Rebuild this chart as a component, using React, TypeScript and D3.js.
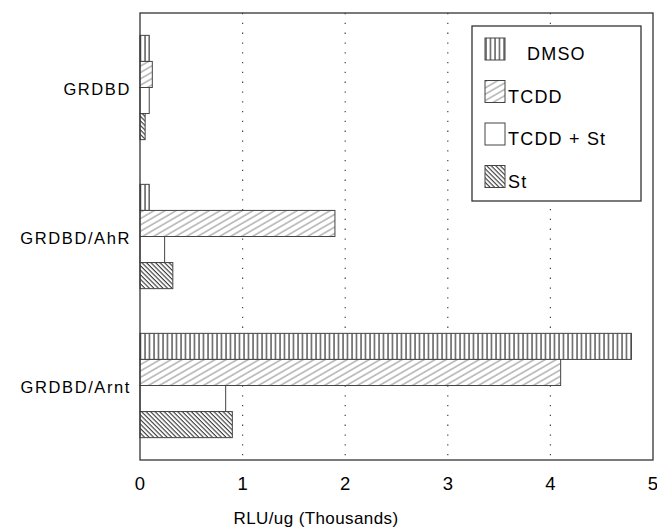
import * as d3 from "d3";
import { useEffect, useRef } from "react";

// chart data
const categories = ["GRDBD", "GRDBD/AhR", "GRDBD/Arnt"];
const seriesNames = ["DMSO", "TCDD", "TCDD + St", "St"];
const dmso = [0.09, 0.09, 4.79];
const tcdd = [0.12, 1.9, 4.1];
const tcddSt = [0.09, 0.24, 0.835];
const st = [0.05, 0.32, 0.9];
const xTicks = [0, 1, 2, 3, 4, 5];

const fills = ["url(#pDmso)", "url(#pTcdd)", "#fff", "url(#pSt)"];

function App() {
  const ref = useRef<SVGSVGElement | null>(null);

  useEffect(() => {
    const svg = d3.select(ref.current);
    svg.selectAll("*").remove();

    const left = 140;
    const right = 653;
    const top = 13;
    const bottom = 460;
    const font = "'Liberation Sans', Arial, Helvetica, sans-serif";

    // patterns for the bar fills
    const defs = svg.append("defs");
    const pd = defs
      .append("pattern")
      .attr("id", "pDmso")
      .attr("patternUnits", "userSpaceOnUse")
      .attr("width", 4.5)
      .attr("height", 10);
    pd.append("rect").attr("width", 4.5).attr("height", 10).attr("fill", "#fff");
    pd.append("line")
      .attr("x1", 1).attr("x2", 1).attr("y1", 0).attr("y2", 10)
      .attr("stroke", "#222").attr("stroke-width", 1.1);

    const pt = defs
      .append("pattern")
      .attr("id", "pTcdd")
      .attr("patternUnits", "userSpaceOnUse")
      .attr("width", 5.5)
      .attr("height", 10)
      .attr("patternTransform", "rotate(60)");
    pt.append("rect").attr("width", 5.5).attr("height", 10).attr("fill", "#fff");
    pt.append("line")
      .attr("x1", 1).attr("x2", 1).attr("y1", 0).attr("y2", 10)
      .attr("stroke", "#666").attr("stroke-width", 0.8);

    const ps = defs
      .append("pattern")
      .attr("id", "pSt")
      .attr("patternUnits", "userSpaceOnUse")
      .attr("width", 3.2)
      .attr("height", 10)
      .attr("patternTransform", "rotate(-45)");
    ps.append("rect").attr("width", 3.2).attr("height", 10).attr("fill", "#fff");
    ps.append("line")
      .attr("x1", 1).attr("x2", 1).attr("y1", 0).attr("y2", 10)
      .attr("stroke", "#222").attr("stroke-width", 1);

    // scales
    const x = d3.scaleLinear().domain([0, 5]).range([left, right]);
    const y = d3
      .scaleBand()
      .domain(categories)
      .range([top, bottom])
      .paddingInner(0.3)
      .paddingOuter(0.15);
    const yInner = d3
      .scaleBand()
      .domain(seriesNames)
      .range([0, y.bandwidth()]);

    // dotted grid
    svg
      .append("g")
      .selectAll("line")
      .data(xTicks.slice(1, -1))
      .join("line")
      .attr("x1", (d) => x(d))
      .attr("x2", (d) => x(d))
      .attr("y1", top)
      .attr("y2", bottom)
      .attr("stroke", "#444")
      .attr("stroke-width", 1.2)
      .attr("stroke-dasharray", "1.3,8.5");

    // bars
    const values = [dmso, tcdd, tcddSt, st];
    const rows = categories.flatMap((c, i) =>
      seriesNames.map((s, j) => ({ c, s, j, v: values[j][i] }))
    );
    svg
      .append("g")
      .selectAll("rect")
      .data(rows)
      .join("rect")
      .attr("x", x(0))
      .attr("y", (d) => (y(d.c) as number) + (yInner(d.s) as number))
      .attr("width", (d) => x(d.v) - x(0))
      .attr("height", yInner.bandwidth())
      .attr("fill", (d) => fills[d.j])
      .attr("stroke", "#444")
      .attr("stroke-width", 1);

    // frame
    svg
      .append("rect")
      .attr("x", left)
      .attr("y", top)
      .attr("width", right - left)
      .attr("height", bottom - top)
      .attr("fill", "none")
      .attr("stroke", "#333")
      .attr("stroke-width", 1.3);

    // x tick labels
    svg
      .append("g")
      .selectAll("text")
      .data(xTicks)
      .join("text")
      .attr("x", (d) => x(d))
      .attr("y", 490)
      .attr("text-anchor", "middle")
      .attr("font-family", font)
      .attr("font-size", 18.5)
      .attr("fill", "#000")
      .text((d) => d);

    // x title
    svg
      .append("text")
      .attr("x", 316)
      .attr("y", 524)
      .attr("text-anchor", "middle")
      .attr("font-family", font)
      .attr("font-size", 17)
      .attr("letter-spacing", 0.4)
      .attr("fill", "#000")
      .text("RLU/ug (Thousands)");

    // category labels
    svg
      .append("g")
      .selectAll("text")
      .data(categories)
      .join("text")
      .attr("x", 131)
      .attr("y", (d) => (y(d) as number) + y.bandwidth() / 2)
      .attr("dy", "0.45em")
      .attr("text-anchor", "end")
      .attr("font-family", font)
      .attr("font-size", 16.5)
      .attr("letter-spacing", 1.6)
      .attr("fill", "#000")
      .text((d) => d);

    // legend
    const lg = svg.append("g");
    lg.append("rect")
      .attr("x", 472)
      .attr("y", 26)
      .attr("width", 169)
      .attr("height", 175)
      .attr("fill", "#fff")
      .attr("stroke", "#333")
      .attr("stroke-width", 1.3);
    const item = lg
      .selectAll("g")
      .data(seriesNames)
      .join("g")
      .attr("transform", (d, i) => `translate(485,${38 + i * 42.5})`);
    item
      .append("rect")
      .attr("width", 20)
      .attr("height", 22)
      .attr("fill", (d, i) => fills[i])
      .attr("stroke", "#444")
      .attr("stroke-width", 1);
    item
      .append("text")
      .attr("x", (d, i) => (i === 0 ? 42 : 23))
      .attr("y", 22)
      .attr("font-family", font)
      .attr("font-size", 18)
      .attr("letter-spacing", 1.2)
      .attr("fill", "#000")
      .text((d) => d);
  }, []);

  return (
    <svg
      ref={ref}
      width={657}
      height={529}
      style={{ position: "absolute", left: 0, top: 0, background: "#fff" }}
    />
  );
}

export default App;
